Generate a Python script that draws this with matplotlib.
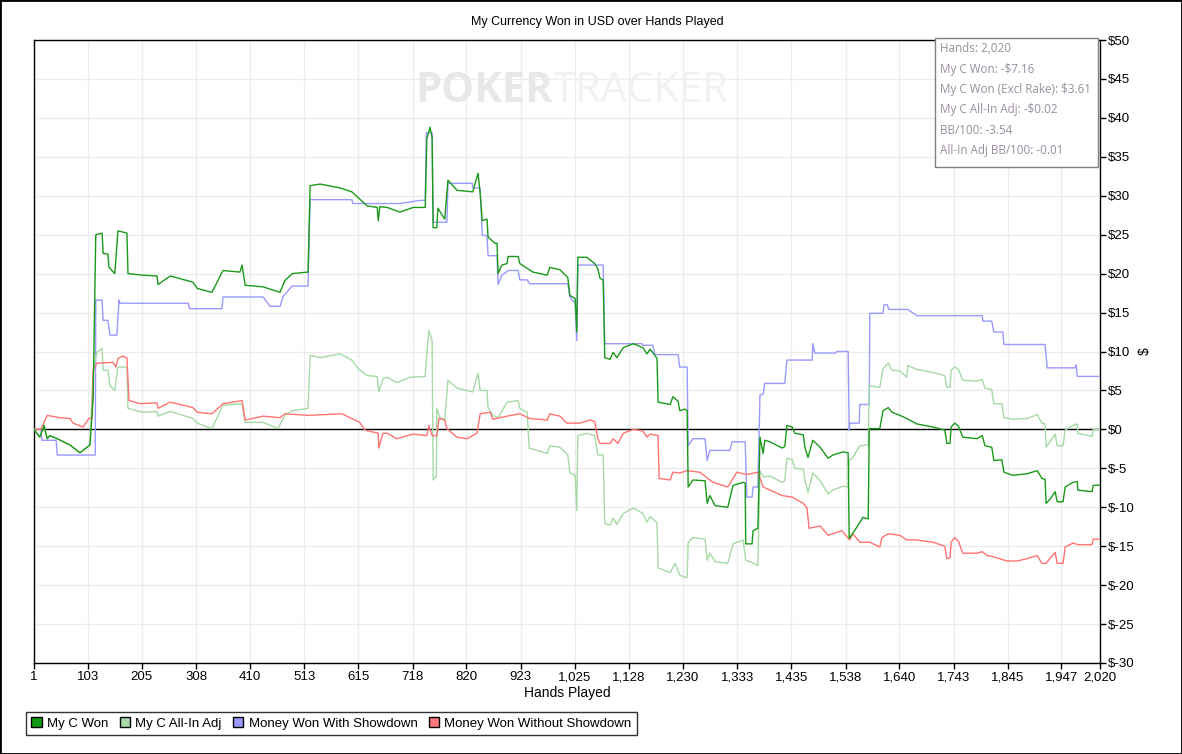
import matplotlib.pyplot as plt
from matplotlib.patches import Rectangle, Patch
from matplotlib.ticker import FuncFormatter

# My C Won (dark green)
won_hands = [1, 12, 20, 26, 31, 45, 69, 88, 107, 113, 118, 130, 132, 141, 143, 154, 160, 177, 179,
             207, 234, 236, 259, 302, 310, 338, 359, 391, 395, 401, 435, 467, 476, 490, 520, 524,
             543, 581, 603, 632, 651, 653, 656, 670, 694, 719, 742, 745, 751, 755, 757, 764, 766,
             779, 785, 802, 832, 842, 846, 850, 859, 861, 874, 878, 880, 887, 897, 899, 918, 921,
             946, 973, 978, 997, 1012, 1016, 1026, 1029, 1031, 1048, 1063, 1069, 1073, 1079, 1082,
             1092, 1098, 1105, 1117, 1136, 1154, 1162, 1168, 1181, 1183, 1206, 1211, 1221, 1224,
             1234, 1238, 1240, 1249, 1272, 1276, 1281, 1291, 1315, 1325, 1344, 1348, 1349, 1361,
             1363, 1372, 1376, 1382, 1385, 1395, 1418, 1423, 1427, 1437, 1442, 1458, 1461, 1467,
             1476, 1490, 1505, 1514, 1533, 1543, 1545, 1552, 1560, 1571, 1581, 1583, 1603, 1609,
             1619, 1626, 1641, 1654, 1673, 1704, 1726, 1730, 1736, 1738, 1745, 1752, 1760, 1787,
             1797, 1802, 1815, 1819, 1834, 1838, 1855, 1882, 1901, 1910, 1916, 1918, 1925, 1935,
             1939, 1950, 1954, 1969, 1977, 1978, 2005, 2007, 2020]
won_vals = [0, -1, 0.5, -1.2, -0.8, -1.2, -2, -3, -2, 4, 25, 25.2, 22.6, 22.5, 20.8, 20, 25.5, 25.2, 20,
            19.8, 19.7, 18.6, 19.7, 18.9, 18.1, 17.6, 20.4, 20.2, 21.1, 18.5, 18.3, 17.6, 19.1, 20, 20.2, 31.3,
            31.5, 31, 30.5, 28.7, 28.5, 26.8, 28.6, 28.5, 27.9, 28.5, 28.5, 37.3, 38.8, 37.5, 25.9, 25.9, 28.4,
            27, 32, 30.7, 30.5, 32.9, 30.3, 26.8, 27, 24.7, 23.9, 23.9, 20, 21.1, 21.3, 22.2, 22.2, 21.3,
            20.2, 19.8, 20.8, 20.5, 19.5, 17.2, 16.8, 12.5, 22.1, 22.1, 21.3, 20.6, 19.4, 19.2, 9.2,
            9.0, 9.9, 9.2, 10.5, 11, 10.5, 9.7, 10.3, 9.1, 3.5, 3.2, 4.2, 3.6, 2.4,
            2.6, 2.4, -7.4, -6.5, -6.6, -9.5, -8.5, -9.8, -10, -7.2, -6.8, -6.9, -14.7, -14.7,
            -13, -12.7, -1, -3.1, -1.4, -1.6, -2.4, -2.2, 0.5, 0.3, -0.5, -0.7, -2.3, -3.6,
            -1.4, -2.3, -3.7, -3.3, -2.9, -3.0, -14, -13.3, -12.5, -11.3, -11.5, 0.1, 0.1, 2.4,
            2.8, 2.2, 1.8, 1.4, 0.7, 0.3, -0.1, -1.8, -1.8, 0.3, 0.8, 0.4, -1, -1.2,
            -0.8, -2.1, -2.3, -4, -3.9, -5.5, -5.9, -5.7, -5.3, -6.3, -6.4, -9.5, -9.0, -8,
            -9.3, -9.3, -7.4, -6.8, -6.7, -7.8, -8, -7.2, -7.16]

# My C All-In Adj (light green)
adj_hands = [1, 12, 20, 26, 31, 45, 69, 88, 107, 113, 120, 130, 132, 141, 145, 154, 160, 177, 179,
             207, 234, 236, 259, 302, 310, 338, 359, 395, 401, 435, 463, 476, 490, 520, 524, 543,
             581, 603, 615, 632, 651, 654, 662, 670, 688, 713, 742, 745, 749, 755, 757, 763, 764,
             770, 779, 785, 802, 832, 842, 846, 859, 861, 870, 880, 897, 918, 921, 935, 939, 973,
             978, 997, 1012, 1016, 1026, 1029, 1031, 1048, 1063, 1069, 1079, 1082, 1092, 1098,
             1105, 1117, 1136, 1154, 1162, 1168, 1181, 1183, 1206, 1215, 1224, 1234, 1238, 1240,
             1249, 1272, 1276, 1281, 1291, 1315, 1325, 1344, 1349, 1361, 1372, 1376, 1382, 1395,
             1418, 1423, 1427, 1437, 1442, 1458, 1461, 1467, 1476, 1490, 1505, 1514, 1533, 1543,
             1545, 1552, 1565, 1581, 1583, 1603, 1609, 1619, 1626, 1641, 1654, 1656, 1673, 1704,
             1726, 1730, 1736, 1738, 1745, 1752, 1760, 1787, 1797, 1802, 1815, 1819, 1834, 1838,
             1855, 1882, 1901, 1910, 1916, 1918, 1925, 1935, 1939, 1950, 1954, 1969, 1977, 1978,
             2005, 2007, 2020]
adj_vals = [0, -1, 0.5, -1.2, -0.8, -1.2, -2, -3, -2, 7.6, 9.9, 10.4, 7.6, 7.6, 5.6, 5, 8, 8, 2.7,
            2.2, 2.3, 1.7, 2.3, 1.4, 0.8, 0.1, 3.1, 3.3, 0.9, 0.9, 0.1, 1.8, 2.4, 2.7, 9.5, 9.2,
            9.7, 8.9, 7.8, 6.9, 6.8, 4.8, 6.5, 6.7, 6, 6.7, 6.8, 9.7, 12.7, 11.4, -6.5, -6.0, 2.7,
            1.5, 1.3, 6.3, 5.3, 4.8, 7.2, 5, 5, 2.8, 1.8, 1.5, 3.5, 3.7, 2.7, 2.2, -2.4, -3.1,
            -2.1, -2.3, -3.3, -5.6, -5.9, -10.4, -0.8, -0.5, -0.8, -3.3, -3.3, -12.1, -12.3, -11.4,
            -12.2, -10.8, -10.1, -10.8, -11.9, -11.2, -12, -17.8, -18.4, -17.2, -18.7, -19, -19, -14.5,
            -13.9, -14.1, -16.8, -15.9, -17, -17.2, -14.7, -14.2, -16.8, -17.1, -17.5, -5.3, -6.1, -6.0,
            -6.8, -6.6, -3.7, -3.9, -5, -5.1, -6.5, -8.1, -5.6, -6.6, -8.3, -7.8, -7.3, -7.4,
            -4, -3.6, -2.1, -2.0, 5.6, 5.4, 7.8, 8.5, 7.6, 7.5, 6.7, 8.2, 7.7, 7.3,
            6.9, 5.4, 5.4, 7.6, 8, 7.7, 6.3, 6.2, 6.4, 5.3, 5.1, 3.3, 3.3, 1.5,
            1.3, 1.4, 1.9, 0.8, 0.7, -2.3, -1.6, -0.6, -2.1, -2.1, -0.1, 0.5, 0.7, -0.5,
            -0.9, 0, -0.02]

# Money Won With Showdown (blue)
sd_hands = [1, 14, 16, 26, 43, 45, 117, 118, 130, 132, 141, 145, 158, 162, 164, 293, 296, 357, 359,
            435, 448, 467, 473, 490, 520, 524, 603, 605, 694, 732, 742, 744, 755, 757, 783, 785,
            831, 832, 846, 850, 859, 861, 878, 880, 887, 899, 918, 921, 935, 940, 1012, 1016,
            1026, 1029, 1031, 1079, 1082, 1153, 1154, 1173, 1177, 1221, 1224, 1238, 1240, 1249,
            1272, 1276, 1281, 1319, 1323, 1348, 1351, 1361, 1363, 1372, 1376, 1382, 1385, 1423,
            1427, 1475, 1476, 1480, 1518, 1522, 1543, 1545, 1546, 1564, 1565, 1583, 1584, 1609,
            1611, 1617, 1620, 1656, 1673, 1797, 1798, 1815, 1819, 1836, 1838, 1916, 1920, 1973,
            1975, 1977, 2020]
sd_vals = [0, 0, -1.4, -1.4, -1.4, -3.3, -3.3, 16.6, 16.6, 14, 14, 12.1, 12.1, 16.6, 16.2, 16.2, 15.5, 15.5, 17,
           17, 15.8, 15.8, 17.1, 18.4, 18.4, 29.5, 29.5, 29, 29, 29.4, 29.4, 38.1, 38.1, 26.6, 26.6, 31.6,
           31.6, 31, 31, 24.9, 24.9, 22.3, 22.3, 18.6, 19.8, 20.4, 20.4, 19.2, 19.2, 18.7, 18.7, 17,
           16.2, 11.4, 21.1, 21.1, 11, 11, 10.8, 10.8, 9.6, 9.6, 8, 8, -2.1, -1.2,
           -1.2, -4, -2.7, -2.7, -1.6, -1.6, -8.7, -8.7, -7.4, -7.4, 4.4, 4.5, 5.9, 5.9,
           8.9, 8.9, 11, 9.8, 9.8, 10, 10, -0.1, 0.8, 0.8, 3.2, 3.2, 14.9, 14.9,
           16, 16, 15.4, 15.4, 14.6, 14.6, 13.9, 13.9, 12.5, 12.5, 10.9, 10.9, 7.9, 7.9,
           8.3, 6.8, 6.8]

# Money Won Without Showdown (red)
nsd_hands = [1, 14, 26, 50, 69, 75, 94, 105, 111, 113, 120, 151, 156, 160, 168, 177, 181, 202, 234,
             236, 259, 302, 310, 338, 359, 395, 401, 435, 467, 476, 520, 584, 618, 628, 653, 654,
             662, 670, 688, 719, 745, 749, 755, 764, 768, 779, 783, 802, 821, 840, 846, 865, 870,
             897, 921, 940, 973, 978, 997, 1010, 1035, 1054, 1063, 1069, 1073, 1092, 1098, 1107,
             1117, 1136, 1154, 1162, 1168, 1183, 1185, 1206, 1211, 1224, 1238, 1262, 1287, 1315,
             1332, 1351, 1372, 1382, 1395, 1418, 1437, 1458, 1465, 1469, 1490, 1505, 1531, 1546,
             1552, 1565, 1584, 1603, 1607, 1619, 1641, 1654, 1673, 1704, 1726, 1730, 1736, 1738,
             1745, 1752, 1760, 1787, 1797, 1806, 1815, 1844, 1863, 1882, 1901, 1910, 1918, 1925,
             1935, 1939, 1950, 1954, 1969, 1978, 2005, 2007, 2020]
nsd_vals = [0, 0, 1.8, 1.5, 1.4, 0.8, 0.3, 1.4, 1.4, 7.6, 8.5, 8.6, 8, 9.1, 9.4, 9.2, 3.7, 3.3, 3.4,
            2.7, 3.5, 2.8, 2.2, 2, 3.3, 3.7, 1.2, 1.7, 1.5, 2, 1.8, 2, 0.9, -0.1, -0.5, -2.4,
            -0.5, -0.5, -1.2, -0.6, -0.8, 0.5, -0.8, -0.8, 1.4, 1.2, 0.1, -1, -1.2, -0.5, 2, 2.2, 1.3,
            1.7, 2, 1.4, 1.2, 2, 1.7, 0.8, 0.8, 1.2, 1.0, -1.2, -1.8, -1.8, -1.2, -1.8,
            -0.5, 0, -0.2, -1, -0.6, -0.8, -6.3, -6.5, -5.5, -5.6, -5.3, -5.5, -6.8, -7.4,
            -5.5, -5.8, -5.5, -7.4, -7.8, -8.5, -8.7, -9.5, -10.1, -12.7, -12.4, -13.6, -13, -14.2,
            -13.4, -14.5, -14.5, -15.1, -13.9, -13.4, -13.6, -14.2, -14.2, -14.5, -15, -16.6, -16.5, -14.5,
            -13.9, -14.4, -15.9, -15.9, -15.7, -16.2, -16.3, -16.9, -16.9, -16.6, -16.2, -17.2, -17.2, -16.6,
            -15.8, -17.2, -17.2, -15.1, -14.6, -14.8, -14.8, -14.1, -14.1]

x_ticks = [1, 103, 205, 308, 410, 513, 615, 718, 820, 923, 1025, 1128, 1230, 1333, 1435, 1538,
           1640, 1743, 1845, 1947, 2020]
y_ticks = list(range(-30, 51, 5))

stats_lines = ["Hands: 2,020", "My C Won: -$7.16", "My C Won (Excl Rake): $3.61",
               "My C All-In Adj: -$0.02", "BB/100: -3.54", "All-In Adj BB/100: -0.01"]

c_won = "#1a991a"
c_adj = "#a6d9a6"
c_sd = "#9999ff"
c_nsd = "#ff7373"

plt.rcParams['font.family'] = ['Liberation Sans', 'DejaVu Sans']

fig = plt.figure(figsize=(11.82, 7.54), dpi=100)
ax = fig.add_axes([34 / 1182, 91 / 754, 1066 / 1182, 623 / 754])

# watermark
fig.text(553 / 1182, (754 - 91) / 754, "POKER", ha='right', va='center', fontsize=30,
         fontweight='bold', color='#e8e8e8', family='Open Sans', zorder=0)
fig.text(553 / 1182, (754 - 91) / 754, "TRACKER", ha='left', va='center', fontsize=30,
         color='#f1f1f1', family='Open Sans', zorder=0)
ax.patch.set_alpha(0)

ax.plot(sd_hands, sd_vals, color=c_sd, lw=1.0, zorder=3)
ax.plot(adj_hands, adj_vals, color=c_adj, lw=1.0, zorder=3)
ax.plot(nsd_hands, nsd_vals, color=c_nsd, lw=1.0, zorder=4)
ax.plot(won_hands, won_vals, color=c_won, lw=1.0, zorder=5)
ax.axhline(0, color='black', lw=1.0, zorder=2)

ax.set_xlim(1, 2020)
ax.set_ylim(-30, 50)
ax.set_xticks(x_ticks)
ax.xaxis.set_major_formatter(FuncFormatter(lambda v, p: f"{int(v):,}"))
ax.set_yticks(y_ticks)
ax.yaxis.set_major_formatter(FuncFormatter(lambda v, p: f"${int(v)}"))
ax.yaxis.tick_right()
ax.yaxis.set_label_position('right')
ax.tick_params(axis='both', direction='out', length=4, width=1, labelsize=9.5, colors='black', pad=2)
ax.grid(True, color='#ececec', lw=1.0, zorder=0)
ax.set_axisbelow(True)
for s in ax.spines.values():
    s.set_color('black')
    s.set_linewidth(1.0)

ax.set_xlabel("Hands Played", fontsize=10, labelpad=2)
ax.set_ylabel("$", fontsize=10, rotation=90, labelpad=2)
fig.text(597 / 1182, (754 - 22) / 754, "My Currency Won in USD over Hands Played", ha='center', va='center',
         fontsize=9, family='Liberation Sans')

# stats box
box = Rectangle((935 / 1182, (754 - 167) / 754), 163 / 1182, 129 / 754, transform=fig.transFigure,
                facecolor='white', edgecolor='#808080', lw=1.0, zorder=10)
fig.patches.append(box)
for i, line in enumerate(stats_lines):
    fig.text(940 / 1182, (754 - 49 - 20.3 * i) / 754, line, ha='left', va='center', fontsize=8.4,
             color='#998e9e', family='Open Sans', zorder=11)

handles = [Patch(facecolor='#119911', edgecolor='black', label='My C Won'),
           Patch(facecolor='#a6d9a6', edgecolor='black', label='My C All-In Adj'),
           Patch(facecolor='#9999ff', edgecolor='black', label='Money Won With Showdown'),
           Patch(facecolor='#ff7777', edgecolor='black', label='Money Won Without Showdown')]
leg = fig.legend(handles=handles, loc='lower left', ncol=4, fontsize=9.5, frameon=True, fancybox=False,
                 bbox_to_anchor=(26 / 1182, 19 / 754, 611 / 1182, 31 / 754), mode='expand',
                 handlelength=0.8, handleheight=0.8, handletextpad=0.4, columnspacing=1.5,
                 borderaxespad=0)
leg.get_frame().set_edgecolor('black')
leg.get_frame().set_linewidth(1.0)

fig.patches.append(Rectangle((0, 0), 1, 1, transform=fig.transFigure, fill=False,
                             edgecolor='black', lw=2))

fig.savefig("out.png", dpi=100)
